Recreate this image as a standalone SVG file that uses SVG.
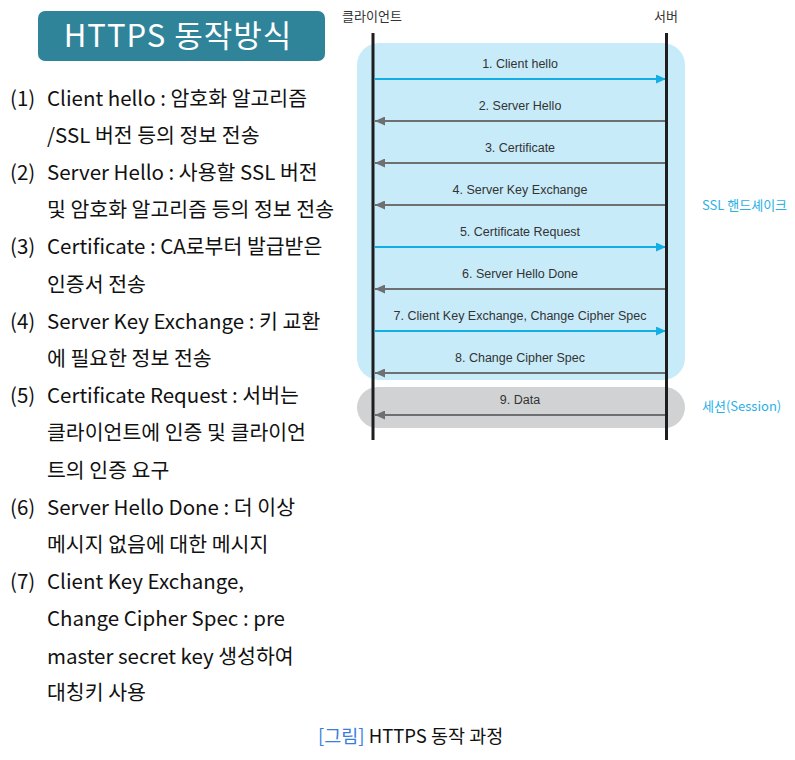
<svg xmlns="http://www.w3.org/2000/svg" width="795" height="760" viewBox="0 0 795 760">
<style>
.body{font-family:"Noto Sans CJK KR","Noto Sans",sans-serif;font-size:20.5px;fill:#111}
.msg{font-family:"Liberation Sans",Arial,sans-serif;font-size:12.5px;fill:#333;text-anchor:middle}
.hdr{font-family:"Noto Sans CJK KR",sans-serif;font-size:13px;fill:#333;text-anchor:middle}
.side{font-family:"Noto Sans CJK KR",sans-serif;font-size:13px;fill:#29b1e6}
.blue{stroke:#14aee6;stroke-width:2;fill:none;marker-end:url(#hb)}
.gray{stroke:#6e6f71;stroke-width:2;fill:none;marker-end:url(#hg)}
.life{stroke:#1e1e1e;stroke-width:3}
</style>
<defs>
<marker id="hb" viewBox="0 0 10 9" refX="10" refY="4.5" markerWidth="10" markerHeight="9" orient="auto" markerUnits="userSpaceOnUse"><path d="M0,0 L10,4.5 L0,9 z" fill="#14aee6"/></marker>
<marker id="hg" viewBox="0 0 10 9" refX="10" refY="4.5" markerWidth="10" markerHeight="9" orient="auto" markerUnits="userSpaceOnUse"><path d="M0,0 L10,4.5 L0,9 z" fill="#6e6f71"/></marker>
</defs>
<rect width="795" height="760" fill="#fff"/>
<g id="title">
<rect x="38" y="11" width="287" height="50" rx="7" fill="#2f8499"/>
<text x="178" y="47" text-anchor="middle" style="font-family:'Noto Sans CJK KR',sans-serif;font-size:31px;letter-spacing:1px;fill:#fff">HTTPS 동작방식</text>
</g>
<g id="description" class="body">
<text x="10" y="106">(1)</text><text x="47" y="106">Client hello : 암호화 알고리즘</text>
<text x="47" y="143">/SSL 버전 등의 정보 전송</text>
<text x="10" y="180">(2)</text><text x="47" y="180">Server Hello : 사용할 SSL 버전</text>
<text x="47" y="217">및 암호화 알고리즘 등의 정보 전송</text>
<text x="10" y="254">(3)</text><text x="47" y="254">Certificate : CA로부터 발급받은</text>
<text x="47" y="292">인증서 전송</text>
<text x="10" y="329">(4)</text><text x="47" y="329">Server Key Exchange : 키 교환</text>
<text x="47" y="366">에 필요한 정보 전송</text>
<text x="10" y="403">(5)</text><text x="47" y="403">Certificate Request : 서버는</text>
<text x="47" y="440">클라이언트에 인증 및 클라이언</text>
<text x="47" y="478">트의 인증 요구</text>
<text x="10" y="515">(6)</text><text x="47" y="515">Server Hello Done : 더 이상</text>
<text x="47" y="552">메시지 없음에 대한 메시지</text>
<text x="10" y="589">(7)</text><text x="47" y="589">Client Key Exchange,</text>
<text x="47" y="626">Change Cipher Spec : pre</text>
<text x="47" y="664">master secret key 생성하여</text>
<text x="47" y="700">대칭키 사용</text>
</g>
<g id="phase-handshake">
<rect x="357" y="43" width="328" height="337" rx="22" fill="#c8ebfa"/>
<text class="side" x="702" y="210">SSL 핸드셰이크</text>
</g>
<g id="phase-session">
<rect x="357" y="387" width="328" height="41" rx="20.5" fill="#d1d2d4"/>
<text class="side" x="702" y="411">세션(Session)</text>
</g>
<g id="connectors">
<line class="blue" x1="375" y1="79" x2="666" y2="79"/>
<line class="gray" x1="665" y1="121" x2="375" y2="121"/>
<line class="gray" x1="665" y1="163" x2="375" y2="163"/>
<line class="gray" x1="665" y1="205" x2="375" y2="205"/>
<line class="blue" x1="375" y1="247" x2="666" y2="247"/>
<line class="gray" x1="665" y1="289" x2="375" y2="289"/>
<line class="blue" x1="375" y1="331" x2="666" y2="331"/>
<line class="gray" x1="665" y1="373" x2="375" y2="373"/>
<line class="gray" x1="665" y1="415" x2="375" y2="415"/>
<g class="msg">
<text x="520" y="67.5">1. Client hello</text>
<text x="520" y="109.5">2. Server Hello</text>
<text x="520" y="151.5">3. Certificate</text>
<text x="520" y="193.5">4. Server Key Exchange</text>
<text x="520" y="235.5">5. Certificate Request</text>
<text x="520" y="277.5">6. Server Hello Done</text>
<text x="520" y="319.5">7. Client Key Exchange, Change Cipher Spec</text>
<text x="520" y="361.5">8. Change Cipher Spec</text>
<text x="520" y="403.5">9. Data</text>
</g>
</g>
<g id="client">
<line class="life" x1="373" y1="33" x2="373" y2="440"/>
<text class="hdr" x="372" y="21">클라이언트</text>
</g>
<g id="server">
<line class="life" x1="666.5" y1="33" x2="666.5" y2="440"/>
<text class="hdr" x="666" y="21">서버</text>
</g>
<g id="caption">
<text x="318" y="743" style="font-family:'Noto Sans CJK KR',sans-serif;font-size:18.5px;fill:#111"><tspan fill="#3b7ddd">[그림]</tspan> HTTPS 동작 과정</text>
</g>
</svg>
